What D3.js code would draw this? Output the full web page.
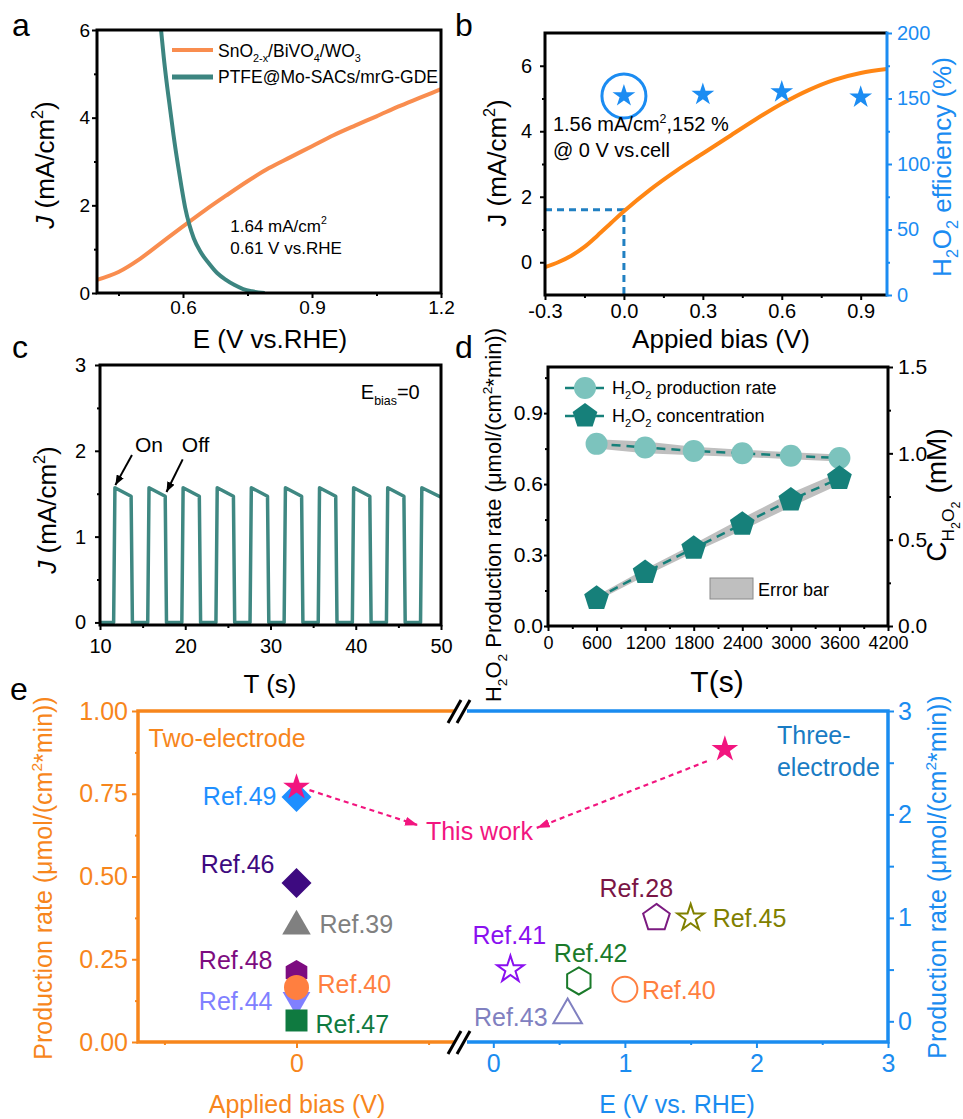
<!DOCTYPE html>
<html>
<head>
<meta charset="utf-8">
<script src="https://cdn.jsdelivr.net/npm/d3@7"></script>
<style>
  body { margin: 0; background: #fff; }
  svg { display: block; }
</style>
</head>
<body>
<div id="fig"></div>
<script>
// ---------- data: panel a ----------
const aPhotoE = [0.40, 0.45, 0.50, 0.55, 0.60, 0.65, 0.70, 0.75, 0.80, 0.85, 0.90, 0.95, 1.00, 1.05, 1.10, 1.15, 1.20];
const aPhotoJ = [0.30, 0.48, 0.78, 1.15, 1.52, 1.88, 2.22, 2.55, 2.85, 3.10, 3.35, 3.60, 3.82, 4.03, 4.25, 4.45, 4.65];
const aCathE = [0.545, 0.549, 0.555, 0.562, 0.570, 0.578, 0.587, 0.596, 0.605, 0.615, 0.625, 0.640, 0.660, 0.680, 0.700, 0.720, 0.740, 0.760, 0.790];
const aCathJ = [6.40, 6.00, 5.40, 4.80, 4.20, 3.60, 3.00, 2.45, 1.95, 1.55, 1.25, 0.95, 0.68, 0.45, 0.30, 0.18, 0.09, 0.04, 0.00];
const aXTicks = [0.6, 0.9, 1.2];
const aYTicks = [0, 2, 4, 6];

// ---------- data: panel b ----------
const bBias = [-0.30, -0.25, -0.20, -0.15, -0.10, -0.05, 0.00, 0.10, 0.20, 0.30, 0.40, 0.50, 0.60, 0.70, 0.80, 0.90, 1.00];
const bJ = [-0.15, 0.00, 0.20, 0.47, 0.82, 1.19, 1.56, 2.22, 2.80, 3.32, 3.84, 4.36, 4.84, 5.25, 5.57, 5.78, 5.90];
const bStarBias = [0, 0.3, 0.6, 0.9];
const bStarEff = [152, 153, 155, 151];
const bXTicks = [-0.3, 0.0, 0.3, 0.6, 0.9];
const bYTicks = [0, 2, 4, 6];
const bEffTicks = [0, 50, 100, 150, 200];

// ---------- data: panel c (chopped light, [t, J]) ----------
const cTrace = [
  [10.0, 0], [11.6, 0], [11.75, 1.57], [13.65, 1.47], [13.8, 0],
  [15.6, 0], [15.75, 1.57], [17.65, 1.47], [17.8, 0],
  [19.6, 0], [19.75, 1.57], [21.65, 1.47], [21.8, 0],
  [23.6, 0], [23.75, 1.57], [25.65, 1.47], [25.8, 0],
  [27.6, 0], [27.75, 1.57], [29.65, 1.47], [29.8, 0],
  [31.6, 0], [31.75, 1.57], [33.65, 1.47], [33.8, 0],
  [35.6, 0], [35.75, 1.57], [37.65, 1.47], [37.8, 0],
  [39.6, 0], [39.75, 1.57], [41.65, 1.47], [41.8, 0],
  [43.6, 0], [43.75, 1.57], [45.65, 1.47], [45.8, 0],
  [47.6, 0], [47.75, 1.57], [50.0, 1.46]
];
const cXTicks = [10, 20, 30, 40, 50];
const cYTicks = [0, 1, 2, 3];

// ---------- data: panel d ----------
const dTime = [600, 1200, 1800, 2400, 3000, 3600];
const dRate = [0.77, 0.755, 0.74, 0.73, 0.72, 0.71];
const dRateErr = [0.02, 0.025, 0.018, 0.015, 0.015, 0.015];
const dConc = [0.16, 0.31, 0.45, 0.59, 0.73, 0.855];
const dConcErr = [0.015, 0.02, 0.025, 0.035, 0.04, 0.035];
const dXTicks = [0, 600, 1200, 1800, 2400, 3000, 3600, 4200];
const dXMinor = [300, 900, 1500, 2100, 2700, 3300, 3900];
const dRateTicks = [0.0, 0.3, 0.6, 0.9];
const dConcTicks = [0.0, 0.5, 1.0, 1.5];

// ---------- data: panel e ----------
const eTwoNames = ["Ref.49", "Ref.46", "Ref.39", "Ref.48", "Ref.44", "Ref.40", "Ref.47", "This work"];
const eTwoRate = [0.74, 0.48, 0.35, 0.21, 0.127, 0.165, 0.065, 0.77];
const eThreeNames = ["Ref.28", "Ref.45", "Ref.41", "Ref.42", "Ref.40", "Ref.43", "This work"];
const eThreeE = [1.24, 1.50, 0.13, 0.65, 1.00, 0.565, 1.76];
const eThreeRate = [1.00, 1.00, 0.50, 0.39, 0.31, 0.06, 2.63];
const eLeftTicks = [0, 0.25, 0.5, 0.75, 1.0];
const eRightTicks = [0, 1, 2, 3];

// ---------- styles ----------
const F = 'Arial, "Liberation Sans", sans-serif';
const orangeA = "#F98D4F", tealA = "#3C8580";
const orangeB = "#FF8614", blue = "#1B8CF2", dashBlue = "#2180C2";
const tealC = "#3F8882", tealLight = "#7CC3BD", tealDark = "#16807A", bandGray = "#BFBFBF";
const eOrange = "#F7861C", eBlue = "#1A8CF0", pink = "#F2157F";

const twoStyle = {
  "Ref.49": { shape: "diamond", r: 15, color: "#1E8FFF", dx: -20, dy: 8, anchor: "end" },
  "Ref.46": { shape: "diamond", r: 15, color: "#3D0A80", dx: -22, dy: -10, anchor: "end" },
  "Ref.39": { shape: "triangle", r: 16.5, color: "#808080", dx: 23, dy: 7, anchor: "start" },
  "Ref.48": { shape: "hexagon", r: 12.5, color: "#7D0C80", dx: -24, dy: -3, anchor: "end" },
  "Ref.44": { shape: "triangleDown", r: 16, color: "#8080FF", dx: -24, dy: 10, anchor: "end" },
  "Ref.40": { shape: "circle", r: 12.5, color: "#FF7F40", dx: 21, dy: 6, anchor: "start" },
  "Ref.47": { shape: "square", r: 11, color: "#0F7A40", dx: 19, dy: 13, anchor: "start" },
  "This work": { shape: "star", r: 14, color: pink }
};
const threeStyle = {
  "Ref.28": { shape: "pentagon", r: 14, color: "#7B1A80", label: "#7A1545", dx: -57, dy: -21, anchor: "start" },
  "Ref.45": { shape: "star", r: 14, color: "#808000", dx: 22, dy: 9, anchor: "start" },
  "Ref.41": { shape: "star", r: 14, color: "#8A10F0", dx: -38, dy: -26, anchor: "start" },
  "Ref.42": { shape: "hexagon", r: 13.5, color: "#1A7A2A", dx: -25, dy: -19, anchor: "start" },
  "Ref.40": { shape: "circle", r: 12.5, color: "#FF7F40", dx: 17, dy: 10, anchor: "start" },
  "Ref.43": { shape: "triangle", r: 16.5, color: "#8080C0", dx: -20, dy: 11, anchor: "end" },
  "This work": { shape: "star", r: 14, color: pink, filled: true }
};

const svg = d3.select("#fig").append("svg")
  .attr("width", 963).attr("height", 1119)
  .attr("font-family", F);
svg.append("rect").attr("width", 963).attr("height", 1119).attr("fill", "#fff");
const defs = svg.append("defs");

// ---------- helpers ----------
// parts: plain strings, {sub}, {sub2} (second level), {sup}, {i} (italic)
function rich(t, parts, fs) {
  let cur = 0;
  parts.forEach(p => {
    let s = p, shift = 0, size = fs, italic = false;
    if (typeof p === "object") {
      if (p.sub !== undefined) { s = p.sub; shift = fs * 0.28; size = fs * 0.62; }
      else if (p.sub2 !== undefined) { s = p.sub2; shift = fs * 0.5; size = fs * 0.45; }
      else if (p.sup !== undefined) { s = p.sup; shift = -fs * 0.42; size = fs * 0.62; }
      else if (p.i !== undefined) { s = p.i; italic = true; }
    }
    const ts = t.append("tspan").attr("dy", shift - cur).attr("font-size", size).text(s);
    if (italic) ts.attr("font-style", "italic");
    cur = shift;
  });
  return t;
}

function label(parent, x, y, fs, color, parts, anchor = "start") {
  const t = parent.append("text").attr("x", x).attr("y", y)
    .attr("font-size", fs).attr("fill", color).attr("text-anchor", anchor);
  return rich(t, Array.isArray(parts) ? parts : [parts], fs);
}

function vtitle(parent, x, y, fs, color, parts) {
  const t = parent.append("text")
    .attr("transform", `translate(${x},${y}) rotate(-90)`)
    .attr("text-anchor", "middle").attr("font-size", fs).attr("fill", color);
  return rich(t, parts, fs);
}

function styleAxis(g, color, fs) {
  g.attr("font-family", F).attr("font-size", fs);
  g.select(".domain").remove();
  g.selectAll(".tick line").attr("stroke", color).attr("stroke-width", 2);
  g.selectAll(".tick text").attr("fill", color);
  return g;
}

function addAxis(parent, o) {
  const mk = { left: d3.axisLeft, right: d3.axisRight, bottom: d3.axisBottom }[o.orient];
  const tr = o.orient === "bottom" ? `translate(0,${o.at})` : `translate(${o.at},0)`;
  const color = o.color || "#000";
  if (o.minor) {
    const gm = parent.append("g").attr("transform", tr)
      .call(mk(o.scale).tickValues(o.minor).tickSize(o.minorSize || 3).tickFormat(""));
    styleAxis(gm, color, o.fs);
  }
  const g = parent.append("g").attr("transform", tr)
    .call(mk(o.scale).tickValues(o.major).tickSize(o.size || 5).tickPadding(o.pad).tickFormat(o.fmt));
  styleAxis(g, color, o.fs);
}

function frame(parent, x0, y0, x1, y1) {
  parent.append("rect").attr("x", x0).attr("y", y0)
    .attr("width", x1 - x0).attr("height", y1 - y0)
    .attr("fill", "none").attr("stroke", "#000").attr("stroke-width", 3);
}

function clip(id, x0, y0, x1, y1) {
  defs.append("clipPath").attr("id", id).append("rect")
    .attr("x", x0).attr("y", y0).attr("width", x1 - x0).attr("height", y1 - y0);
  return `url(#${id})`;
}

function polyPath(n, r, rot) {
  const pts = d3.range(n).map(i => {
    const a = rot + i * 2 * Math.PI / n;
    return [r * Math.sin(a), -r * Math.cos(a)];
  });
  return "M" + pts.map(p => p.join(",")).join("L") + "Z";
}

function shapePath(kind, r) {
  switch (kind) {
    case "star": return d3.symbol(d3.symbolStar, r * r / 0.8908)();
    case "circle": return d3.symbol(d3.symbolCircle, Math.PI * r * r)();
    case "diamond": return `M0,${-r}L${r},0L0,${r}L${-r},0Z`;
    case "square": return `M${-r},${-r}H${r}V${r}H${-r}Z`;
    case "triangle": return polyPath(3, r, 0);
    case "triangleDown": return polyPath(3, r, Math.PI);
    case "pentagon": return polyPath(5, r, 0);
    case "hexagon": return polyPath(6, r, 0);
  }
}

function arrowMarker(id, color, len, wid) {
  defs.append("marker").attr("id", id)
    .attr("viewBox", `0 0 ${len} ${wid}`).attr("refX", len).attr("refY", wid / 2)
    .attr("markerWidth", len).attr("markerHeight", wid)
    .attr("markerUnits", "userSpaceOnUse").attr("orient", "auto")
    .append("path").attr("d", `M0,0L${len},${wid / 2}L0,${wid}Z`).attr("fill", color);
}
arrowMarker("arrK", "#000", 10, 8);
arrowMarker("arrP", pink, 13, 9);

const fmt1 = d => d.toFixed(1);

// ---------- panel a ----------
{
  const g = svg.append("g");
  const x = d3.scaleLinear([0.4, 1.2], [97, 441]);
  const y = d3.scaleLinear([0, 6], [293, 30]);
  const line = d3.line().x(d => x(d[0])).y(d => y(d[1])).curve(d3.curveMonotoneX);
  const cp = clip("clipA", 97, 30, 441, 293);
  const dg = g.append("g").attr("clip-path", cp);
  dg.append("path").datum(aPhotoE.map((e, i) => [e, aPhotoJ[i]]))
    .attr("d", line).attr("fill", "none").attr("stroke", orangeA).attr("stroke-width", 4);
  dg.append("path").datum(aCathE.map((e, i) => [e, aCathJ[i]]))
    .attr("d", line).attr("fill", "none").attr("stroke", tealA).attr("stroke-width", 4);

  addAxis(g, { orient: "left", scale: y, at: 97, major: aYTicks, minor: [1, 3, 5], fs: 19, pad: 2, fmt: d => d });
  addAxis(g, { orient: "bottom", scale: x, at: 293, major: aXTicks, minor: [0.45, 0.75, 1.05], fs: 19, pad: 3, fmt: fmt1 });
  frame(g, 97, 30, 441, 293);

  // legend
  g.append("line").attr("x1", 172).attr("x2", 213).attr("y1", 50).attr("y2", 50).attr("stroke", orangeA).attr("stroke-width", 4);
  g.append("line").attr("x1", 172).attr("x2", 213).attr("y1", 77).attr("y2", 77).attr("stroke", tealA).attr("stroke-width", 5);
  label(g, 218, 57, 17.5, "#000", ["SnO", { sub: "2-x" }, "/BiVO", { sub: "4" }, "/WO", { sub: "3" }]);
  label(g, 218, 83, 17.5, "#000", ["PTFE@Mo-SACs/mrG-GDE"]);

  label(g, x(0.71), y(1.4), 17, "#000", ["1.64 mA/cm", { sup: "2" }]);
  label(g, x(0.71), y(0.9), 17, "#000", ["0.61 V vs.RHE"]);

  vtitle(g, 54, 165, 26, "#000", [{ i: "J" }, " (mA/cm", { sup: "2" }, ")"]);
  label(g, 270, 348, 26, "#000", ["E (V vs.RHE)"], "middle");
  label(g, 12, 36, 32, "#000", ["a"]);
}

// ---------- panel b ----------
{
  const g = svg.append("g");
  const x = d3.scaleLinear([-0.3, 1.0], [545, 887]);
  const y = d3.scaleLinear([-1, 7], [295, 33]);
  const yr = d3.scaleLinear([0, 200], [295, 33]);
  const cp = clip("clipB", 545, 33, 887, 295);
  const dg = g.append("g").attr("clip-path", cp);

  // guide lines to the 0 V point
  dg.append("path")
    .attr("d", `M${x(-0.3)},${y(1.6)}H${x(0)}V${y(-1)}`)
    .attr("fill", "none").attr("stroke", dashBlue).attr("stroke-width", 3).attr("stroke-dasharray", "7,5");

  const line = d3.line().x(d => x(d[0])).y(d => y(d[1])).curve(d3.curveCatmullRom);
  dg.append("path").datum(bBias.map((b, i) => [b, bJ[i]]))
    .attr("d", line).attr("fill", "none").attr("stroke", orangeB).attr("stroke-width", 4);

  g.selectAll("path.star").data(bStarBias).join("path").attr("class", "star")
    .attr("transform", (d, i) => `translate(${x(d)},${yr(bStarEff[i])})`)
    .attr("d", shapePath("star", 12)).attr("fill", blue);
  g.append("circle").attr("cx", x(bStarBias[0])).attr("cy", yr(bStarEff[0])).attr("r", 22)
    .attr("fill", "none").attr("stroke", blue).attr("stroke-width", 3);

  addAxis(g, { orient: "left", scale: y, at: 545, major: bYTicks, minor: [1, 3, 5], fs: 20, pad: 8, fmt: d => d });
  addAxis(g, { orient: "bottom", scale: x, at: 295, major: bXTicks, minor: [-0.15, 0.15, 0.45, 0.75], fs: 20, pad: 4, fmt: fmt1 });
  addAxis(g, { orient: "right", scale: yr, at: 887, major: bEffTicks, minor: [25, 75, 125, 175], fs: 20, pad: 5, fmt: d => d, color: blue });
  g.append("path").attr("d", "M887,33H545V295H887").attr("fill", "none").attr("stroke", "#000").attr("stroke-width", 3);
  g.append("line").attr("x1", 887).attr("x2", 887).attr("y1", 31.5).attr("y2", 296.5).attr("stroke", blue).attr("stroke-width", 3);

  label(g, x(-0.27), y(4.0), 20, "#000", ["1.56 mA/cm", { sup: "2" }, ",152 %"]);
  label(g, x(-0.27), y(3.2), 20, "#000", ["@ 0 V vs.cell"]);

  vtitle(g, 506, 163, 26, "#000", ["J (mA/cm", { sup: "2" }, ")"]);
  vtitle(g, 951, 167, 26, blue, ["H", { sub: "2" }, "O", { sub: "2" }, " efficiency (%)"]);
  label(g, 721, 348, 26, "#000", ["Appied bias (V)"], "middle");
  label(g, 455, 36, 32, "#000", ["b"]);
}

// ---------- panel c ----------
{
  const g = svg.append("g");
  const x = d3.scaleLinear([10, 50], [100, 441]);
  const y = d3.scaleLinear([-0.03, 3], [625, 365]);
  const cp = clip("clipC", 100, 365, 441, 625);
  g.append("g").attr("clip-path", cp).append("path").datum(cTrace)
    .attr("d", d3.line().x(d => x(d[0])).y(d => y(d[1])))
    .attr("fill", "none").attr("stroke", tealC).attr("stroke-width", 3.5).attr("stroke-linejoin", "round");

  addAxis(g, { orient: "left", scale: y, at: 100, major: cYTicks, minor: [0.5, 1.5, 2.5], fs: 20, pad: 9, fmt: d => d });
  addAxis(g, { orient: "bottom", scale: x, at: 625, major: cXTicks, minor: [15, 25, 35, 45], fs: 20, pad: 9, fmt: d => d });
  frame(g, 100, 365, 441, 625);

  label(g, x(40.6), y(2.6), 20, "#000", ["E", { sub: "bias" }, "=0"]);
  label(g, x(14.1), y(1.99), 21, "#000", ["On"]);
  label(g, x(19.6), y(1.99), 21, "#000", ["Off"]);
  g.append("line").attr("x1", x(13.75)).attr("y1", y(1.95)).attr("x2", x(11.8)).attr("y2", y(1.6))
    .attr("stroke", "#000").attr("stroke-width", 2).attr("marker-end", "url(#arrK)");
  g.append("line").attr("x1", x(19.7)).attr("y1", y(1.9)).attr("x2", x(17.8)).attr("y2", y(1.52))
    .attr("stroke", "#000").attr("stroke-width", 2).attr("marker-end", "url(#arrK)");

  vtitle(g, 56, 510, 26, "#000", [{ i: "J" }, " (mA/cm", { sup: "2" }, ")"]);
  label(g, 270, 693, 26, "#000", ["T (s)"], "middle");
  label(g, 12, 358, 32, "#000", ["c"]);
}

// ---------- panel d ----------
{
  const g = svg.append("g");
  const x = d3.scaleLinear([0, 4200], [548, 888]);
  const yl = d3.scaleLinear([0, 1.095], [626, 367]);
  const yr = d3.scaleLinear([0, 1.5], [626, 367]);

  const rateBand = d3.area().x((d, i) => x(dTime[i])).y0((d, i) => yl(d - dRateErr[i])).y1((d, i) => yl(d + dRateErr[i]));
  const concBand = d3.area().x((d, i) => x(dTime[i])).y0((d, i) => yr(d - dConcErr[i])).y1((d, i) => yr(d + dConcErr[i]));
  g.append("path").datum(dRate).attr("d", rateBand).attr("fill", bandGray);
  g.append("path").datum(dConc).attr("d", concBand).attr("fill", bandGray);

  g.append("path").datum(dRate).attr("d", d3.line().x((d, i) => x(dTime[i])).y(d => yl(d)))
    .attr("fill", "none").attr("stroke", tealDark).attr("stroke-width", 2.5).attr("stroke-dasharray", "9,6");
  g.append("path").datum(dConc).attr("d", d3.line().x((d, i) => x(dTime[i])).y(d => yr(d)))
    .attr("fill", "none").attr("stroke", tealDark).attr("stroke-width", 2.5).attr("stroke-dasharray", "9,6");

  g.selectAll("circle.rate").data(dRate).join("circle").attr("class", "rate")
    .attr("cx", (d, i) => x(dTime[i])).attr("cy", d => yl(d)).attr("r", 11).attr("fill", tealLight);
  g.selectAll("path.conc").data(dConc).join("path").attr("class", "conc")
    .attr("transform", (d, i) => `translate(${x(dTime[i])},${yr(d)})`)
    .attr("d", shapePath("pentagon", 13)).attr("fill", tealDark);

  addAxis(g, { orient: "left", scale: yl, at: 548, major: dRateTicks, minor: [0.15, 0.45, 0.75, 1.05], fs: 21, pad: 1, size: 4, fmt: fmt1 });
  addAxis(g, { orient: "bottom", scale: x, at: 626, major: dXTicks, minor: dXMinor, fs: 18, pad: 5, fmt: d => d });
  addAxis(g, { orient: "right", scale: yr, at: 888, major: dConcTicks, minor: [0.25, 0.75, 1.25], fs: 21, pad: 5, fmt: fmt1 });
  frame(g, 548, 367, 888, 626);

  // legend
  [[388, "circle"], [416, "pentagon"]].forEach(([ly, kind]) => {
    g.append("line").attr("x1", 563).attr("x2", 607).attr("y1", ly).attr("y2", ly)
      .attr("stroke", tealDark).attr("stroke-width", 2.5).attr("stroke-dasharray", "9,6").attr("stroke-dashoffset", -2);
    if (kind === "circle") g.append("circle").attr("cx", 585).attr("cy", ly).attr("r", 11).attr("fill", tealLight);
    else g.append("path").attr("transform", `translate(585,${ly})`).attr("d", shapePath("pentagon", 13)).attr("fill", tealDark);
  });
  label(g, 612, 394, 18, "#000", ["H", { sub: "2" }, "O", { sub: "2" }, " production rate"]);
  label(g, 612, 422, 18, "#000", ["H", { sub: "2" }, "O", { sub: "2" }, " concentration"]);
  g.append("rect").attr("x", 710).attr("y", 578).attr("width", 43).attr("height", 21)
    .attr("fill", bandGray).attr("stroke", "#8A8A8A").attr("stroke-width", 1);
  label(g, 758, 596, 18, "#000", ["Error bar"]);

  vtitle(g, 501, 515, 22, "#000", ["H", { sub: "2" }, "O", { sub: "2" }, " Production rate (\u03bcmol/(cm", { sup: "2" }, "*min))"]);
  vtitle(g, 946, 495, 28, "#000", ["C", { sub: "H" }, { sub2: "2" }, { sub: "O" }, { sub2: "2" }, " (mM)"]);
  label(g, 717, 692, 30, "#000", ["T(s)"], "middle");
  label(g, 455, 358, 32, "#000", ["d"]);
}

// ---------- panel e ----------
{
  const g = svg.append("g");
  const xl = d3.scaleLinear([-0.6, 0.6], [138, 455]);
  const yl = d3.scaleLinear([0, 1], [1042, 711]);
  const xr = d3.scaleLinear([-0.2, 3], [467, 888]);
  const yr = d3.scaleLinear([-0.2, 3], [1042, 711]);

  addAxis(g, { orient: "left", scale: yl, at: 138, major: eLeftTicks, minor: [0.125, 0.375, 0.625, 0.875], fs: 25, pad: 4, size: 6, fmt: d => d.toFixed(2), color: eOrange });
  addAxis(g, { orient: "bottom", scale: xl, at: 1042, major: [0], minor: [-0.5, 0.5], fs: 25, pad: 6, size: 6, fmt: d => d, color: eOrange });
  addAxis(g, { orient: "right", scale: yr, at: 888, major: eRightTicks, minor: [0.5, 1.5, 2.5], fs: 25, pad: 4, size: 6, minorSize: 6, fmt: d => d, color: eBlue });
  addAxis(g, { orient: "bottom", scale: xr, at: 1042, major: eRightTicks, minor: [0.5, 1.5, 2.5], fs: 25, pad: 6, size: 6, fmt: d => d, color: eBlue });

  g.append("path").attr("d", "M455,711H138V1042H455").attr("fill", "none").attr("stroke", eOrange).attr("stroke-width", 3.5);
  g.append("path").attr("d", "M467,711H888V1042H467").attr("fill", "none").attr("stroke", eBlue).attr("stroke-width", 3.5);
  [711, 1042].forEach(by => {
    [[448, 461], [457, 470]].forEach(([a, b]) => {
      g.append("line").attr("x1", a).attr("y1", by + 12).attr("x2", b).attr("y2", by - 11)
        .attr("stroke", "#000").attr("stroke-width", 3);
    });
  });

  // arrows to the "This work" label
  const lw = eTwoNames.indexOf("This work"), rw = eThreeNames.indexOf("This work");
  g.append("line")
    .attr("x1", xl(0) + 13).attr("y1", yl(eTwoRate[lw]) + 3)
    .attr("x2", xl(0.46)).attr("y2", yl(0.655))
    .attr("stroke", pink).attr("stroke-width", 2.2).attr("stroke-dasharray", "5,4").attr("marker-end", "url(#arrP)");
  g.append("line")
    .attr("x1", xr(eThreeE[rw]) - 18).attr("y1", yr(eThreeRate[rw]) + 12)
    .attr("x2", xr(0.33)).attr("y2", yr(1.87))
    .attr("stroke", pink).attr("stroke-width", 2.2).attr("stroke-dasharray", "5,4").attr("marker-end", "url(#arrP)");

  // two-electrode points (all at 0 V bias)
  eTwoNames.forEach((n, i) => {
    const s = twoStyle[n];
    const px = xl(0), py = yl(eTwoRate[i]);
    g.append("path").attr("transform", `translate(${px},${py})`).attr("d", shapePath(s.shape, s.r)).attr("fill", s.color);
    if (n !== "This work") label(g, px + s.dx, py + s.dy, 25, s.color, [n], s.anchor);
  });

  // three-electrode points
  eThreeNames.forEach((n, i) => {
    const s = threeStyle[n];
    const px = xr(eThreeE[i]), py = yr(eThreeRate[i]);
    g.append("path").attr("transform", `translate(${px},${py})`).attr("d", shapePath(s.shape, s.r))
      .attr("fill", s.filled ? s.color : "none").attr("stroke", s.filled ? "none" : s.color).attr("stroke-width", 2);
    if (n !== "This work") label(g, px + s.dx, py + s.dy, 25, s.label || s.color, [n], s.anchor);
  });

  label(g, xl(0.49), yl(0.61), 25, pink, ["This work"]);
  label(g, xl(-0.56), yl(0.89), 25, eOrange, ["Two-electrode"]);
  label(g, xr(2.156), yr(2.68), 25, "#1A7CC4", ["Three-"]);
  label(g, xr(2.156), yr(2.37), 25, "#1A7CC4", ["electrode"]);

  vtitle(g, 52, 878, 25, eOrange, ["Production rate (\u03bcmol/(cm", { sup: "2" }, "*min))"]);
  vtitle(g, 946, 877, 25, eBlue, ["Production rate (\u03bcmol/(cm", { sup: "2" }, "*min))"]);
  label(g, 297, 1113, 25, eOrange, ["Applied bias (V)"], "middle");
  label(g, 677, 1113, 25, eBlue, ["E (V vs. RHE)"], "middle");
  label(g, 10, 700, 32, "#000", ["e"]);
}
</script>
</body>
</html>
